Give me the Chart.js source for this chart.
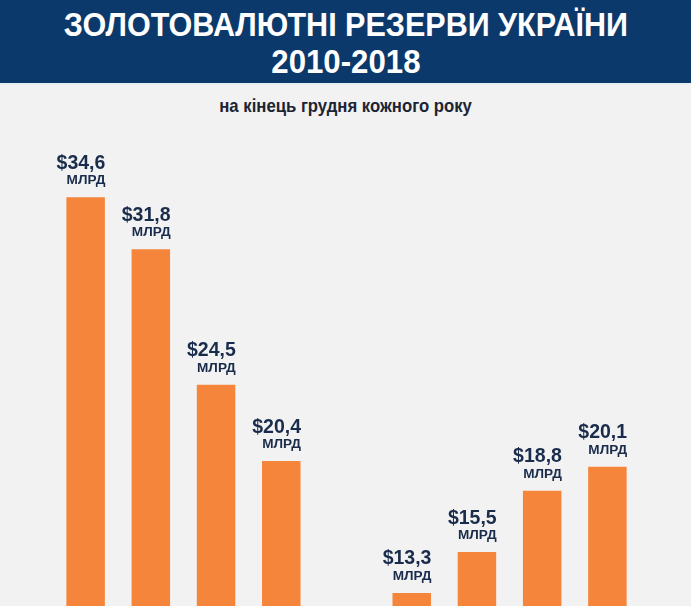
<!DOCTYPE html>
<html>
<head>
<meta charset="utf-8">
<script src="https://cdn.jsdelivr.net/npm/chart.js@4.4.1/dist/chart.umd.min.js"></script>
<style>
  html, body { margin:0; padding:0; }
  body { width:691px; height:606px; overflow:hidden; position:relative; background:#f2f2f2; font-family:"Liberation Sans", Arial, sans-serif; }
  #hdr { position:absolute; left:0; top:0; width:691px; height:83px; background:#0c396c; border-bottom:2px solid #e9eef1; }
  .t { position:absolute; left:0; width:691px; text-align:center; color:#fff; font-weight:bold; white-space:nowrap; }
  .t span { display:inline-block; }
  #t1 { top:8px; font-size:33px; line-height:33px; }
  #t1 span { transform:scaleX(0.925); }
  #t2 { top:45px; font-size:33px; line-height:33px; }
  #t2 span { transform:scaleX(0.945); }
  #sub { position:absolute; left:0; top:96px; width:691px; text-align:center; color:#1c2433; font-weight:bold; font-size:19px; line-height:19px; white-space:nowrap; }
  #sub span { display:inline-block; transform:scaleX(0.88); }
  #wrap { position:absolute; left:0; top:0; width:691px; height:606px; }
</style>
</head>
<body>
<div id="hdr"></div>
<div class="t" id="t1"><span>ЗОЛОТОВАЛЮТНІ РЕЗЕРВИ УКРАЇНИ</span></div>
<div class="t" id="t2"><span>2010-2018</span></div>
<div id="sub"><span>на кінець грудня кожного року</span></div>
<div id="wrap"><canvas id="c" width="691" height="606"></canvas></div>
<script>
const years = ["2010", "2011", "2012", "2013", "2014", "2015", "2016", "2017", "2018"];
const reserves = [34.6, 31.8, 24.5, 20.4, 7.5, 13.3, 15.5, 18.8, 20.1];
const unitLabel = "МЛРД";

const valueLabels = {
  id: "valueLabels",
  afterDatasetsDraw(chart) {
    const ctx = chart.ctx;
    const area = chart.chartArea;
    const meta = chart.getDatasetMeta(0);
    ctx.save();
    ctx.fillStyle = "#1a2c4c";
    ctx.textAlign = "right";
    ctx.textBaseline = "alphabetic";
    meta.data.forEach((bar, i) => {
      const top = bar.y;
      if (top > area.bottom) return;
      const right = bar.x + bar.width / 2 + 0.5;
      ctx.font = "bold 19.5px 'Liberation Sans', Arial, sans-serif";
      ctx.fillText("$" + reserves[i].toFixed(1).replace(".", ","), right, top - 28.5);
      ctx.font = "bold 13.6px 'Liberation Sans', Arial, sans-serif";
      ctx.fillText(unitLabel, right, top - 13);
    });
    ctx.restore();
  }
};

new Chart(document.getElementById("c"), {
  type: "bar",
  data: {
    labels: years,
    datasets: [{
      data: reserves,
      backgroundColor: "#f5853b",
      borderWidth: 0,
      categoryPercentage: 1.0,
      barPercentage: 0.59
    }]
  },
  options: {
    responsive: false,
    animation: false,
    events: [],
    layout: { padding: { left: 53, right: 51, top: 134, bottom: 0 } },
    plugins: { legend: { display: false }, tooltip: { enabled: false }, title: { display: false } },
    scales: {
      x: { display: false },
      y: { display: false, min: 12.6, max: 38 }
    }
  },
  plugins: [valueLabels]
});
</script>
</body>
</html>
